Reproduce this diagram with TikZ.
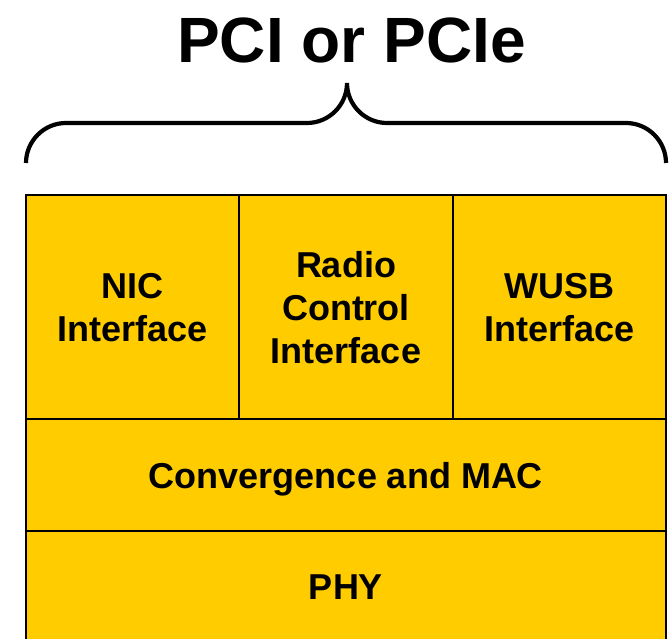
\documentclass[tikz,border=0pt]{standalone}
\usepackage{fontspec}
\setmainfont{Liberation Sans}
\definecolor{layeryellow}{HTML}{FFCC00}
\begin{document}
\begin{tikzpicture}[x=1pt,y=-1pt,
  layer/.style={draw=black, line width=2pt, fill=layeryellow, inner sep=0pt,
    align=center, text depth=0pt,
    font=\bfseries\fontsize{36}{43}\selectfont},
  bracestyle/.style={draw=black, line width=4.2pt}]
\useasboundingbox (0,0) rectangle (670,639);
\clip (0,0) rectangle (670,639);
\node[font=\bfseries\fontsize{64}{77}\selectfont, anchor=base, inner sep=0pt] (title) at (351.5,63) {PCI or PCIe};
\coordinate (bl) at (26,163);
\coordinate (tip) at (347,83);
\coordinate (br) at (666,163);
\draw[bracestyle] (bl) .. controls (26,141) and (44,123) .. (66,123) -- (307,123)
  .. controls (329,123) and (347,105) .. (tip)
  .. controls (347,105) and (365,123) .. (387,123) -- (626,123)
  .. controls (648,123) and (666,141) .. (br);
\node[layer, minimum width=213pt, minimum height=224pt] (nic) at (132.5,307) {NIC\\Interface};
\node[layer, minimum width=214pt, minimum height=224pt] (rc) at (346,307) {Radio\\Control\\Interface};
\node[layer, minimum width=213pt, minimum height=224pt] (wusb) at (559.5,307) {WUSB\\Interface};
\node[layer, minimum width=640pt, minimum height=112pt] (mac) at (346,475) {Convergence and MAC};
\node[layer, minimum width=640pt, minimum height=112pt] (phy) at (346,587) {PHY};
\end{tikzpicture}
\end{document}
